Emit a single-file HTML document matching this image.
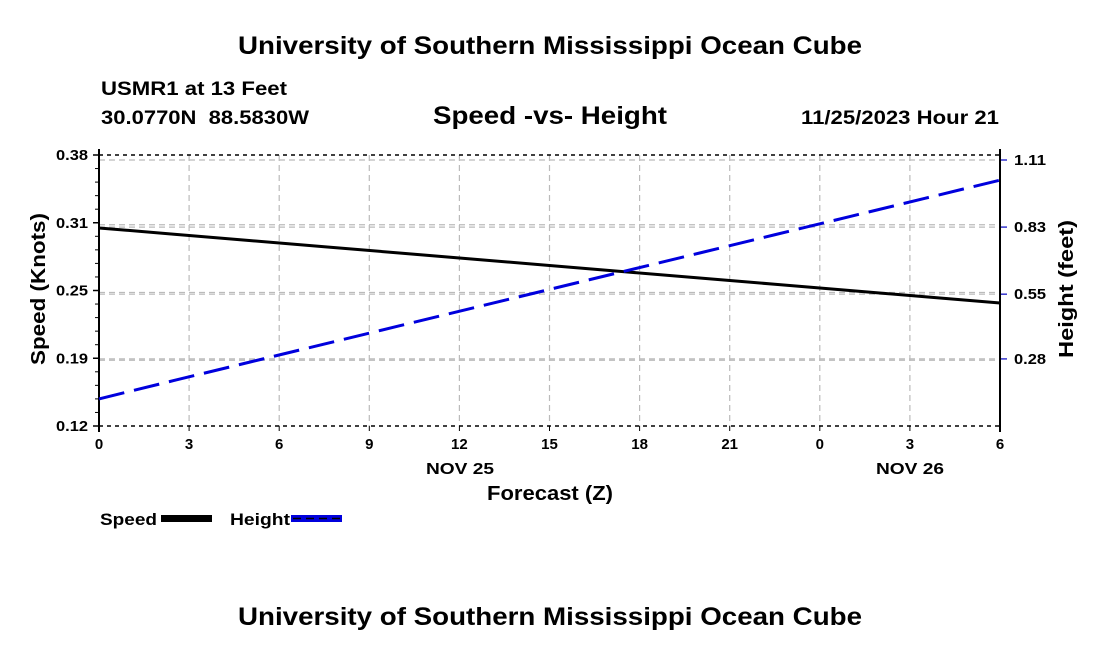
<!DOCTYPE html>
<html><head><meta charset="utf-8"><style>
body{margin:0;background:#fff;width:1100px;height:650px;overflow:hidden}
svg{display:block;font-family:"Liberation Sans",Arial,sans-serif;font-weight:bold}
</style></head><body>
<svg id="c" width="1100" height="650" viewBox="0 0 1100 650">
<text x="550" y="54" text-anchor="middle" font-size="25" textLength="624" lengthAdjust="spacingAndGlyphs">University of Southern Mississippi Ocean Cube</text>
<text x="101" y="95" font-size="19" textLength="186" lengthAdjust="spacingAndGlyphs">USMR1 at 13 Feet</text>
<text x="101" y="124" font-size="19" textLength="208" lengthAdjust="spacingAndGlyphs">30.0770N&#160;&#160;88.5830W</text>
<text x="550" y="124" text-anchor="middle" font-size="25" textLength="234" lengthAdjust="spacingAndGlyphs">Speed -vs- Height</text>
<text x="999" y="124" text-anchor="end" font-size="19" textLength="198" lengthAdjust="spacingAndGlyphs">11/25/2023 Hour 21</text>
<g id="grid"></g><g id="axes"></g><g id="series"></g>
<text x="550" y="500" text-anchor="middle" font-size="20" textLength="126" lengthAdjust="spacingAndGlyphs">Forecast (Z)</text>
<text transform="translate(45,289) rotate(-90)" text-anchor="middle" font-size="20" textLength="152" lengthAdjust="spacingAndGlyphs">Speed (Knots)</text>
<text transform="translate(1073,289) rotate(-90)" text-anchor="middle" font-size="20" textLength="138" lengthAdjust="spacingAndGlyphs">Height (feet)</text>
<text x="460" y="474" text-anchor="middle" font-size="16" textLength="68" lengthAdjust="spacingAndGlyphs">NOV 25</text>
<text x="910" y="474" text-anchor="middle" font-size="16" textLength="68" lengthAdjust="spacingAndGlyphs">NOV 26</text>
<g>
<text x="100" y="525" font-size="17" textLength="57" lengthAdjust="spacingAndGlyphs">Speed</text>
<rect x="161" y="515" width="51" height="7" fill="#000"/>
<text x="230" y="525" font-size="17" textLength="60" lengthAdjust="spacingAndGlyphs">Height</text>
<rect x="291" y="515" width="51" height="7" fill="#0000dd"/>
<line x1="293" y1="518.5" x2="342" y2="518.5" stroke="#000" stroke-width="1.5" stroke-dasharray="8,5"/>
</g>
<text x="550" y="625" text-anchor="middle" font-size="25" textLength="624" lengthAdjust="spacingAndGlyphs">University of Southern Mississippi Ocean Cube</text>
</svg>
<script>
const hours=[0,3,6,9,12,15,18,21,24,27,30];
const xTickLabels=["0","3","6","9","12","15","18","21","0","3","6"];
const speedTicks=[0.12,0.185,0.25,0.315,0.38];
const speedTickLabels=["0.12","0.19","0.25","0.31","0.38"];
const heightTicks=[0.28,0.55,0.83,1.11];
const heightTickLabels=["0.28","0.55","0.83","1.11"];
const speed=[0.310,0.304,0.298,0.292,0.286,0.280,0.274,0.268,0.262,0.256,0.250,0.244,0.238];
const height=[0.113,0.190,0.266,0.342,0.418,0.494,0.570,0.646,0.722,0.798,0.874,0.950,1.026];
const ns="http://www.w3.org/2000/svg";
const L=99,R=1000,T=155,B=426;
const xs=h=>L+(h/30)*(R-L);
const ys=v=>B-(v-0.12)/(0.38-0.12)*(B-T);
const yh=v=>B-(v/1.11)*(B-160);
function mk(p,t,a){const e=document.createElementNS(ns,t);for(const k in a)e.setAttribute(k,a[k]);p.appendChild(e);return e;}
const g=document.getElementById('grid'),ax=document.getElementById('axes'),se=document.getElementById('series');
hours.forEach((h,i)=>{
  const x=xs(h);
  if(i>0&&i<hours.length-1){const l=mk(g,'line',{x1:x,y1:T,x2:x,y2:B,stroke:'#bbb','stroke-width':1.2,'stroke-dasharray':'6,4'});
  
  }
  mk(ax,'line',{x1:x,y1:B,x2:x,y2:B+5,stroke:'#000'});
  const t=mk(ax,'text',{x:x,y:B+23,'text-anchor':'middle','font-size':15});t.textContent=xTickLabels[i];
  
  
});
speedTicks.forEach((v,i)=>{
  const y=ys(v);
  if(i>0&&i<speedTicks.length-1){const l=mk(g,'line',{x1:L,y1:y+2,x2:R,y2:y+2,stroke:'#bbb','stroke-width':1.2,'stroke-dasharray':'6,4'});
  
  }
  mk(ax,'line',{x1:L-6,y1:y,x2:L,y2:y,stroke:'#000','stroke-width':1.5});
  const t=mk(ax,'text',{x:L-11,y:y+5,'text-anchor':'end','font-size':15,textLength:32,lengthAdjust:'spacingAndGlyphs'});t.textContent=speedTickLabels[i];
  
  
});
for(let y=T;y<=B;y+=(B-T)/20)mk(ax,'line',{x1:L-4,y1:y,x2:L,y2:y,stroke:'#000'});
heightTicks.forEach((v,i)=>{
  const y=yh(v);
  const l=mk(g,'line',{x1:L,y1:y,x2:R,y2:y,stroke:'#bbb','stroke-width':1.2,'stroke-dasharray':'6,4'});
  
  
  mk(ax,'line',{x1:R,y1:y,x2:R+7,y2:y,stroke:'#3333cc','stroke-width':1.5});
  const t=mk(ax,'text',{x:R+14,y:y+5,'font-size':15,textLength:32,lengthAdjust:'spacingAndGlyphs'});t.textContent=heightTickLabels[i];
  
  
});
mk(ax,'line',{x1:L,y1:T-6,x2:L,y2:B+6,stroke:'#000','stroke-width':2});
mk(ax,'line',{x1:R,y1:T-6,x2:R,y2:B+6,stroke:'#000','stroke-width':2});
mk(ax,'line',{x1:L,y1:T,x2:R,y2:T,stroke:'#000','stroke-width':1.5,'stroke-dasharray':'4,4'});
mk(ax,'line',{x1:L,y1:B,x2:R,y2:B,stroke:'#000','stroke-width':1.5,'stroke-dasharray':'4,4'});
const sp=speed.map((v,i)=>xs(i*2.5)+','+ys(v)).join(' ');
const s1=mk(se,'polyline',{points:sp,fill:'none',stroke:'#000','stroke-width':3});


const hp=height.map((v,i)=>xs(i*2.5)+','+yh(v)).join(' ');
const s2=mk(se,'polyline',{points:hp,fill:'none',stroke:'#0000dd','stroke-width':3,'stroke-dasharray':'26,10'});


</script>
</body></html>
